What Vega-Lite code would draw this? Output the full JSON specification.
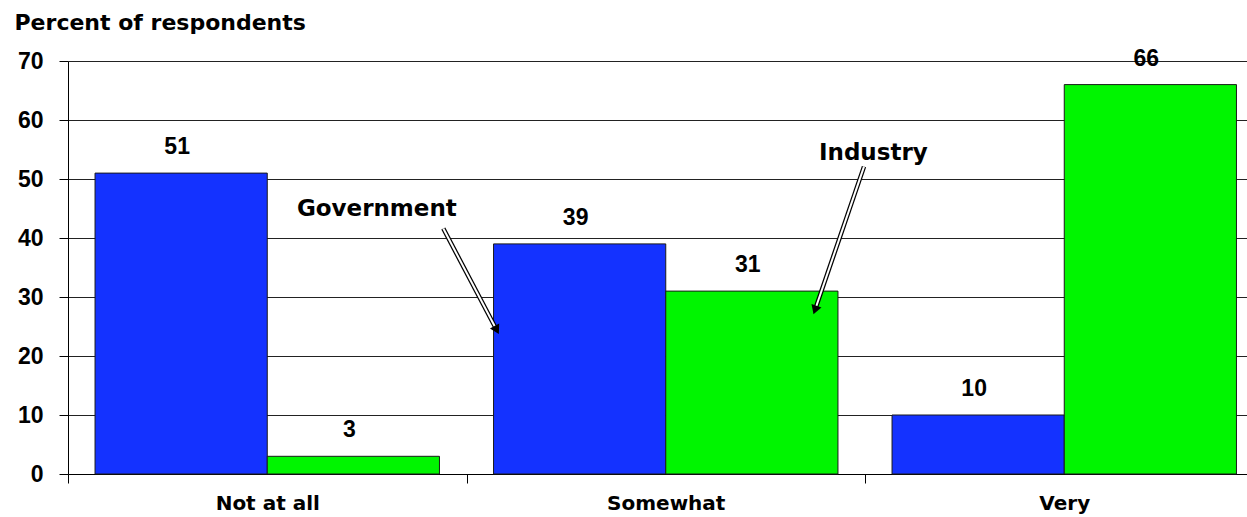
{
  "$schema": "https://vega.github.io/schema/vega-lite/v6.json",
  "autosize": {"type": "none"},
  "padding": {"left": 68, "top": 61, "right": 0, "bottom": 43},
  "width": 1179,
  "height": 413,
  "background": "white",
  "config": {"view": {"stroke": null}},
  "datasets": {
    "bars": [
      {"category": "Not at all", "series": "Government", "value": 51},
      {"category": "Not at all", "series": "Industry", "value": 3},
      {"category": "Somewhat", "series": "Government", "value": 39},
      {"category": "Somewhat", "series": "Industry", "value": 31},
      {"category": "Very", "series": "Government", "value": 10},
      {"category": "Very", "series": "Industry", "value": 66}
    ],
    "notes": [
      {"label": "Government", "tx": 0.775, "ty": 43.7, "x1": 0.9418, "y1": 41.6, "x2": 1.0758, "y2": 24.4},
      {"label": "Industry", "tx": 2.021, "ty": 53.2, "x1": 1.9975, "y1": 52.1, "x2": 1.8745, "y2": 27.8}
    ]
  },
  "layer": [
    {
      "data": {"name": "bars"},
      "encoding": {
        "x": {
          "field": "category", "type": "nominal",
          "scale": {"range": [0, 1195.5], "paddingInner": 0, "paddingOuter": 0},
          "axis": {
            "title": null, "labelAngle": 0,
            "labelFont": "DejaVu Sans", "labelFontSize": 20, "labelFontWeight": "bold", "labelColor": "black",
            "labelBaseline": "alphabetic", "labelPadding": 26,
            "tickBand": "extent", "tickSize": 9, "tickColor": "black", "domainColor": "black", "grid": false
          }
        },
        "xOffset": {"field": "series", "type": "nominal", "scale": {"paddingInner": 0, "paddingOuter": 0.157}},
        "y": {
          "field": "value", "type": "quantitative",
          "scale": {"domain": [0, 70], "nice": false},
          "axis": {
            "title": "Percent of respondents", "titleAngle": 0, "titleAlign": "left", "titleBaseline": "alphabetic",
            "titleX": -54, "titleY": -32, "titleFont": "DejaVu Sans", "titleFontSize": 22, "titleFontWeight": "bold", "titleColor": "black",
            "values": [0, 10, 20, 30, 40, 50, 60, 70],
            "labelFont": "Liberation Sans", "labelFontSize": 23, "labelFontWeight": "bold", "labelColor": "black", "labelPadding": 16,
            "tickSize": 9, "tickColor": "black", "domainColor": "black",
            "grid": true, "gridColor": "#222222", "gridOpacity": 1, "gridWidth": 1
          }
        }
      },
      "layer": [
        {
          "mark": {"type": "bar", "stroke": "#1a1a1a", "strokeWidth": 1},
          "encoding": {
            "color": {"field": "series", "type": "nominal", "scale": {"domain": ["Government", "Industry"], "range": ["#1432FF", "#00F500"]}, "legend": null}
          }
        },
        {
          "mark": {"type": "text", "baseline": "alphabetic", "dy": -19, "dx": -4, "font": "Liberation Sans", "fontSize": 23, "fontWeight": "bold", "color": "black"},
          "encoding": {"text": {"field": "value", "type": "quantitative"}}
        }
      ]
    },
    {
      "data": {"name": "notes"},
      "encoding": {
        "x": {"field": "x1", "type": "quantitative", "scale": {"domain": [0, 2.9586], "nice": false, "zero": false}, "axis": null},
        "y": {
          "field": "y1", "type": "quantitative", "scale": {"domain": [0, 70], "nice": false},
          "axis": {
            "title": "Percent of respondents", "titleAngle": 0, "titleAlign": "left", "titleBaseline": "alphabetic",
            "titleX": -54, "titleY": -32, "titleFont": "DejaVu Sans", "titleFontSize": 22, "titleFontWeight": "bold", "titleColor": "black",
            "values": [0, 10, 20, 30, 40, 50, 60, 70],
            "labelFont": "Liberation Sans", "labelFontSize": 23, "labelFontWeight": "bold", "labelColor": "black", "labelPadding": 16,
            "tickSize": 9, "tickColor": "black", "domainColor": "black",
            "grid": true, "gridColor": "#222222", "gridOpacity": 1, "gridWidth": 1
          }
        }
      },
      "layer": [
        {
          "mark": {"type": "rule", "color": "black", "strokeWidth": 4.5},
          "encoding": {"x2": {"field": "x2"}, "y2": {"field": "y2"}}
        },
        {
          "mark": {"type": "rule", "color": "white", "strokeWidth": 2},
          "encoding": {"x2": {"field": "x2"}, "y2": {"field": "y2"}}
        },
        {
          "transform": [{"filter": "datum.label == 'Government'"}],
          "mark": {"type": "point", "shape": "triangle-down", "filled": true, "color": "black", "opacity": 1, "size": 110, "angle": 332},
          "encoding": {"x": {"field": "x2", "type": "quantitative"}, "y": {"field": "y2", "type": "quantitative"}}
        },
        {
          "transform": [{"filter": "datum.label == 'Industry'"}],
          "mark": {"type": "point", "shape": "triangle-down", "filled": true, "color": "black", "opacity": 1, "size": 110, "angle": 19},
          "encoding": {"x": {"field": "x2", "type": "quantitative"}, "y": {"field": "y2", "type": "quantitative"}}
        },
        {
          "mark": {"type": "text", "baseline": "alphabetic", "align": "center", "font": "DejaVu Sans", "fontSize": 23, "fontWeight": "bold", "color": "black"},
          "encoding": {
            "x": {"field": "tx", "type": "quantitative"},
            "y": {"field": "ty", "type": "quantitative"},
            "text": {"field": "label", "type": "nominal"}
          }
        }
      ]
    }
  ],
  "resolve": {"scale": {"x": "independent"}}
}
